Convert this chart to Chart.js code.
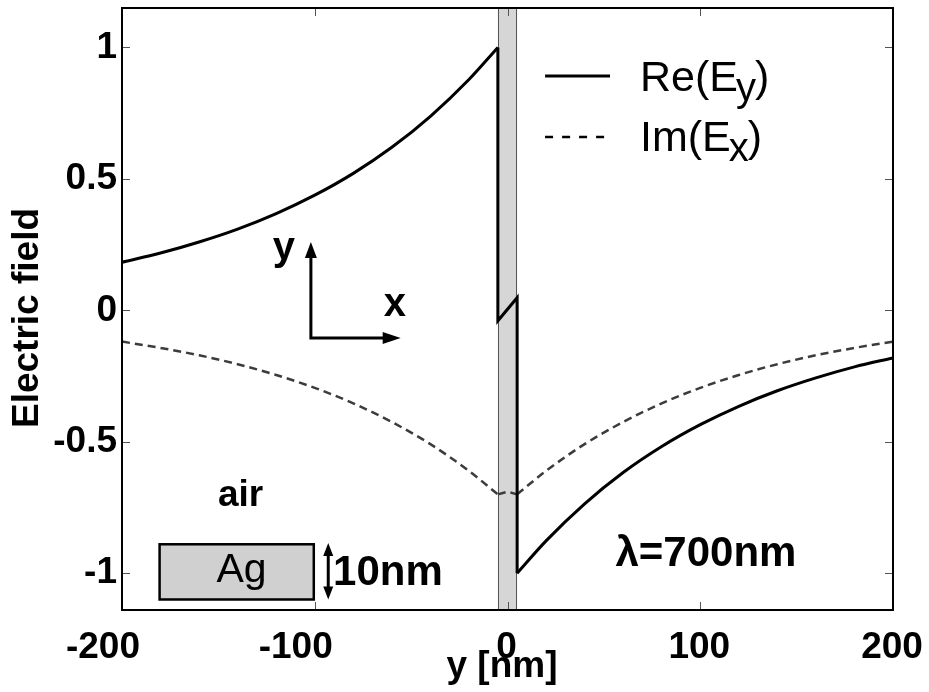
<!DOCTYPE html>
<html><head><meta charset="utf-8">
<script src="https://cdn.jsdelivr.net/npm/chart.js@4.4.0/dist/chart.umd.min.js"></script>
<style>html,body{margin:0;padding:0;background:#fff;} #c{display:block;}</style>
</head><body>
<canvas id="c" width="929" height="692"></canvas>
<script>
// ---- data ----
const xLeft  = [-200,-180,-160,-140,-120,-100,-80,-60,-40,-20,-5];
const reLeft = [0.183,0.218,0.260,0.309,0.368,0.438,0.521,0.620,0.738,0.878,1.000];
const xSlab  = [-5,-5,5,5];
const reSlab = [1.000,-0.040,0.048,-1.000];
const xRight  = [5,20,40,60,80,100,120,140,160,180,200];
const reRight = [-1.000,-0.877,-0.736,-0.617,-0.518,-0.435,-0.365,-0.306,-0.257,-0.215,-0.181];
const imLeft  = [-0.119,-0.143,-0.171,-0.205,-0.246,-0.295,-0.354,-0.425,-0.509,-0.611,-0.700];
const xImSlab = [-5,0,5];
const imSlab  = [-0.700,-0.690,-0.700];
const imRight = [-0.700,-0.611,-0.509,-0.425,-0.354,-0.295,-0.246,-0.205,-0.171,-0.143,-0.119];
const slabEdges = [-5, 5];
const xTicks = [-200,-100,0,100,200];
const yTicks = [-1,-0.5,0,0.5,1];
const seriesNames = ['Re(E', 'y', ')', 'Im(E', 'x', ')'];

const FONT = "'Liberation Sans', Arial, sans-serif";
function pts(xs, ys){ return xs.map((x,i)=>({x:x, y:ys[i]})); }

function arrowHead(ctx, tx, ty, dx, dy, len, wid){
  const px = -dy, py = dx;
  ctx.beginPath();
  ctx.moveTo(tx, ty);
  ctx.lineTo(tx - dx*len + px*wid/2, ty - dy*len + py*wid/2);
  ctx.lineTo(tx - dx*len - px*wid/2, ty - dy*len - py*wid/2);
  ctx.closePath();
  ctx.fill();
}

const deco = {
  id: 'deco',
  beforeDatasetsDraw(chart){
    const ctx = chart.ctx, a = chart.chartArea, xs = chart.scales.x;
    const x0 = xs.getPixelForValue(slabEdges[0]), x1 = xs.getPixelForValue(slabEdges[1]);
    ctx.save();
    ctx.fillStyle = '#d6d6d6';
    ctx.fillRect(x0, a.top, x1 - x0, a.bottom - a.top);
    ctx.strokeStyle = '#555';
    ctx.lineWidth = 1;
    ctx.beginPath();
    ctx.moveTo(Math.round(x0)+0.5, a.top); ctx.lineTo(Math.round(x0)+0.5, a.bottom);
    ctx.moveTo(Math.round(x1)-0.5, a.top); ctx.lineTo(Math.round(x1)-0.5, a.bottom);
    ctx.stroke();
    ctx.restore();
  },
  afterDatasetsDraw(chart){
    const ctx = chart.ctx, a = chart.chartArea, xs = chart.scales.x, ys = chart.scales.y;
    ctx.save();
    // inward tick marks
    ctx.strokeStyle = '#555'; ctx.lineWidth = 1;
    ctx.beginPath();
    xTicks.forEach(v=>{
      const p = Math.round(xs.getPixelForValue(v)) + 0.5;
      ctx.moveTo(p, a.bottom); ctx.lineTo(p, a.bottom - 8);
      ctx.moveTo(p, a.top); ctx.lineTo(p, a.top + 8);
    });
    yTicks.forEach(v=>{
      const p = Math.round(ys.getPixelForValue(v)) + 0.5;
      ctx.moveTo(a.left, p); ctx.lineTo(a.left + 8, p);
      ctx.moveTo(a.right, p); ctx.lineTo(a.right - 8, p);
    });
    ctx.stroke();
    // frame
    ctx.strokeStyle = '#000'; ctx.lineWidth = 2;
    ctx.strokeRect(a.left, a.top, a.right - a.left, a.bottom - a.top);

    const X = v => xs.getPixelForValue(v), Y = v => ys.getPixelForValue(v);
    ctx.fillStyle = '#000'; ctx.strokeStyle = '#000';

    // x tick labels (negative labels sit slightly left, as in the original)
    ctx.font = 'bold 37px ' + FONT;
    ctx.textAlign = 'center'; ctx.textBaseline = 'alphabetic';
    xTicks.forEach(v=>{
      ctx.fillText(String(v), X(v) + (v < 0 ? -19 : -1), 658);
    });

    // coordinate arrows
    ctx.lineWidth = 3;
    const ox = X(-102), oy = Y(-0.105);
    const tipY = Y(0.26), tipX = X(-55.4);
    ctx.beginPath();
    ctx.moveTo(ox, tipY + 12); ctx.lineTo(ox, oy);
    ctx.lineTo(tipX - 14, oy);
    ctx.stroke();
    arrowHead(ctx, ox, tipY, 0, -1, 16, 12);
    arrowHead(ctx, tipX, oy, 1, 0, 18, 12);

    ctx.textAlign = 'center'; ctx.textBaseline = 'middle';
    ctx.font = 'bold 40px ' + FONT;
    ctx.fillText('y', X(-116), Y(0.235));
    ctx.fillText('x', X(-58.4), Y(0.02));
    ctx.font = 'bold 37px ' + FONT;
    ctx.fillText('air', X(-138.5), Y(-0.705));

    // Ag slab sketch
    const bx0 = X(-180.5), bx1 = X(-100.5), by0 = Y(-0.89), by1 = Y(-1.10);
    ctx.fillStyle = '#d0d0d0';
    ctx.fillRect(bx0, by0, bx1 - bx0, by1 - by0);
    ctx.lineWidth = 2.5; ctx.strokeStyle = '#000';
    ctx.strokeRect(bx0, by0, bx1 - bx0, by1 - by0);
    ctx.fillStyle = '#000';
    ctx.font = '41px ' + FONT;
    ctx.fillText('Ag', X(-138), Y(-0.99));

    // 10nm double arrow
    const dx = X(-93), dy0 = Y(-0.885), dy1 = Y(-1.10);
    ctx.lineWidth = 3;
    ctx.beginPath(); ctx.moveTo(dx, dy0 + 10); ctx.lineTo(dx, dy1 - 10); ctx.stroke();
    arrowHead(ctx, dx, dy0, 0, -1, 13, 10);
    arrowHead(ctx, dx, dy1, 0, 1, 13, 10);
    ctx.textAlign = 'left';
    ctx.font = 'bold 42px ' + FONT;
    ctx.fillText('10nm', X(-90.5), Y(-1.0));
    ctx.fillText('\u03BB=700nm', X(56), Y(-0.93));

    // legend
    const lx0 = X(19.5), lx1 = X(53.2);
    ctx.lineWidth = 3;
    ctx.beginPath(); ctx.moveTo(lx0, 76); ctx.lineTo(lx1, 76); ctx.stroke();
    ctx.lineWidth = 2.5; ctx.setLineDash([8, 9]);
    ctx.beginPath(); ctx.moveTo(lx0, 137); ctx.lineTo(lx1, 137); ctx.stroke();
    ctx.setLineDash([]);
    ctx.textBaseline = 'alphabetic';
    function sub(x, y, a, s, b){
      ctx.font = '43px ' + FONT; ctx.fillText(a, x, y);
      let w = ctx.measureText(a).width;
      ctx.font = '40px ' + FONT; ctx.fillText(s, x + w - 2, y + 10);
      w += ctx.measureText(s).width - 3;
      ctx.font = '43px ' + FONT; ctx.fillText(b, x + w, y);
    }
    sub(640, 91, seriesNames[0], seriesNames[1], seriesNames[2]);
    sub(640, 151, seriesNames[3], seriesNames[4], seriesNames[5]);

    // axis titles
    ctx.font = 'bold 37px ' + FONT;
    ctx.textAlign = 'center';
    ctx.fillText('y [nm]', 502, 677);
    ctx.save();
    ctx.translate(28, 318); ctx.rotate(-Math.PI/2);
    ctx.textBaseline = 'middle';
    ctx.fillText('Electric field', 0, 0);
    ctx.restore();
    ctx.restore();
  }
};

const lineBase = {borderColor:'#000', borderWidth:3, pointRadius:0, fill:false, borderJoinStyle:'miter'};
const dashBase = {borderColor:'#3c3c3c', borderWidth:2.5, borderDash:[8,5], pointRadius:0, fill:false};
new Chart(document.getElementById('c'), {
  type: 'line',
  data: {
    datasets: [
      Object.assign({label:'Re(Ey) air', data: pts(xLeft, reLeft), cubicInterpolationMode:'monotone'}, lineBase),
      Object.assign({label:'Re(Ey) Ag', data: pts(xSlab, reSlab), tension:0}, lineBase),
      Object.assign({label:'Re(Ey) air right', data: pts(xRight, reRight), cubicInterpolationMode:'monotone'}, lineBase),
      Object.assign({label:'Im(Ex) air', data: pts(xLeft, imLeft), cubicInterpolationMode:'monotone'}, dashBase),
      Object.assign({label:'Im(Ex) Ag', data: pts(xImSlab, imSlab), tension:0}, dashBase),
      Object.assign({label:'Im(Ex) air right', data: pts(xRight, imRight), cubicInterpolationMode:'monotone'}, dashBase)
    ]
  },
  options: {
    responsive: false, animation: false, devicePixelRatio: 1,
    layout: {autoPadding: false, padding: {top: 8, right: 36, left: 0, bottom: 0}},
    plugins: {legend:{display:false}, tooltip:{enabled:false}},
    scales: {
      x: {type:'linear', min:-200, max:200,
          afterFit: s => { s.height = 82; s.paddingLeft = 0; s.paddingRight = 0; },
          afterBuildTicks: s => { s.ticks = xTicks.map(v=>({value:v})); },
          grid:{display:false, drawTicks:false}, border:{display:false},
          ticks:{display:false}},
      y: {type:'linear', min:-1.14, max:1.15,
          afterFit: s => { s.width = 122; s.paddingTop = 0; s.paddingBottom = 0; },
          afterBuildTicks: s => { s.ticks = yTicks.map(v=>({value:v})); },
          grid:{display:false, drawTicks:false}, border:{display:false},
          ticks:{color:'#000', padding:5, font:{family:FONT, size:37, weight:'bold'}, callback: v => String(v)}}
    }
  },
  plugins: [deco]
});
</script>
</body></html>
